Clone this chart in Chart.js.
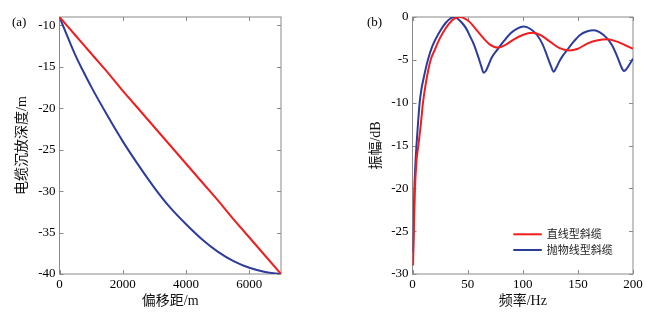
<!DOCTYPE html>
<html><head><meta charset="utf-8">
<script src="https://cdn.jsdelivr.net/npm/chart.js@4/dist/chart.umd.min.js"></script>
<style>
html,body{margin:0;padding:0;background:#fff;width:655px;height:321px;overflow:hidden}
canvas{position:absolute;top:0}
#c1{left:0}
#c2{left:330px}
</style></head><body>
<canvas id="c1" width="330" height="321"></canvas>
<canvas id="c2" width="325" height="321"></canvas>
<script>
// ---- panel (a): cable depth vs offset ----
const offsets = [0, 250, 500, 750, 1000, 1500, 2000, 2500, 3000, 3500, 4000, 4500, 5000, 5500, 6000, 6500, 7000];
const depthStraight = [-9, -10.1, -11.2, -12.3, -13.4, -15.6, -17.9, -20.1, -22.3, -24.5, -26.7, -28.9, -31.1, -33.4, -35.6, -37.8, -40];
const depthParabolic = [-9, -11.35, -13.6, -15.55, -17.4, -20.8, -24.0, -26.9, -29.6, -32.0, -34.0, -35.8, -37.3, -38.45, -39.25, -39.75, -40];
const offsetTicks = [0, 2000, 4000, 6000];
const depthTicks = [-40, -35, -30, -25, -20, -15, -10];

// ---- panel (b): amplitude spectrum ----
const freqStraight = [0.5, 1, 2.1, 3.5, 5.3, 7.5, 9.5, 12, 16.5, 20, 24, 28, 33, 38, 43, 47, 52, 58, 64.5, 70, 77, 85, 92, 100, 108.5, 116, 125, 133, 142, 150, 158.5, 167, 177, 185, 193, 200];
const ampStraight = [-29, -26, -20.5, -17, -15, -12.6, -10, -7.8, -5, -3.9, -2.7, -1.75, -0.8, -0.2, 0, -0.15, -0.6, -1.5, -2.5, -3.2, -3.57, -3.2, -2.6, -2.1, -1.84, -2.1, -2.9, -3.6, -3.9, -3.7, -3.1, -2.75, -2.6, -2.85, -3.3, -3.7];
const freqParabolic = [0.5, 1, 1.6, 2.5, 3.5, 5, 6.5, 8, 10, 14, 18, 24.5, 30, 34, 37.5, 41, 45, 48.5, 52, 56, 60, 62.5, 64.5, 66.5, 69, 72, 77, 83, 89, 95, 101, 107, 113, 118, 122, 125.5, 128, 130.5, 133.5, 137, 140, 146, 152, 158, 164.5, 170, 176.5, 181, 186, 189, 191.8, 194.5, 197.5, 200];
const ampParabolic = [-27.4, -24.5, -20.5, -17.5, -15.2, -12.4, -10, -8.5, -7.2, -5, -3.4, -1.75, -0.7, -0.2, 0, -0.2, -0.7, -1.3, -2.2, -3.3, -4.8, -5.8, -6.5, -6.3, -5.6, -4.7, -3.8, -2.8, -1.9, -1.35, -1.12, -1.4, -2.1, -3.2, -4.5, -5.7, -6.4, -5.9, -5.1, -4.4, -3.9, -2.9, -2.1, -1.7, -1.55, -1.8, -2.5, -3.3, -4.7, -5.7, -6.3, -6.0, -5.4, -4.85];
const freqTicks = [0, 50, 100, 150, 200];
const ampTicks = [-30, -25, -20, -15, -10, -5, 0];

const seriesLabels = ['直线型斜缆', '抛物线型斜缆'];
const RED = '#f01e1e';
const BLUE = '#2c3c9c';
const SERIF = "'Liberation Serif','Times New Roman',serif";
const TITLEFONT = "'Liberation Serif','Noto Sans CJK SC',serif";

function pts(xs, ys) { return xs.map((x, i) => ({ x: x, y: ys[i] })); }

// MATLAB-like box with inward ticks on all sides
const boxPlugin = {
  id: 'box',
  beforeDatasetsDraw(chart) {
    const { ctx, chartArea: a, scales } = chart;
    const xs = scales.x, ys = scales.y;
    ctx.save();
    ctx.strokeStyle = '#8a8a8a';
    ctx.lineWidth = 1;
    ctx.strokeRect(a.left, a.top, a.right - a.left, a.bottom - a.top);
    const L = 4;
    ctx.beginPath();
    xs.ticks.forEach(t => {
      const px = Math.round(xs.getPixelForValue(t.value)) + 0.5;
      ctx.moveTo(px, a.bottom); ctx.lineTo(px, a.bottom - L);
      ctx.moveTo(px, a.top); ctx.lineTo(px, a.top + L);
    });
    ys.ticks.forEach(t => {
      const py = Math.round(ys.getPixelForValue(t.value)) + 0.5;
      ctx.moveTo(a.left, py); ctx.lineTo(a.left + L, py);
      ctx.moveTo(a.right, py); ctx.lineTo(a.right - L, py);
    });
    ctx.stroke();
    ctx.restore();
  }
};

const panelLabelPlugin = {
  id: 'panelLabel',
  afterDraw(chart, args, opts) {
    const ctx = chart.ctx;
    ctx.save();
    ctx.font = '13px ' + SERIF;
    ctx.fillStyle = '#000';
    ctx.textBaseline = 'middle';
    ctx.fillText(opts.text, opts.x, opts.y);
    ctx.restore();
  }
};

const legendPlugin = {
  id: 'insideLegend',
  afterDraw(chart) {
    const { ctx, chartArea: a } = chart;
    ctx.save();
    ctx.font = "11px 'Noto Sans CJK SC',sans-serif";
    ctx.textBaseline = 'middle';
    chart.data.datasets.forEach((ds, i) => {
      const y = a.bottom - 39.7 + i * 15.7;
      const x0 = a.right - 119.7;
      ctx.strokeStyle = ds.borderColor;
      ctx.lineWidth = 2;
      ctx.beginPath(); ctx.moveTo(x0, y); ctx.lineTo(x0 + 28.5, y); ctx.stroke();
      ctx.fillStyle = '#222';
      ctx.fillText(ds.label, x0 + 33.5, y);
    });
    ctx.restore();
  }
};

function makeScale(opts) {
  const s = {
    type: 'linear',
    position: opts.position,
    min: opts.min, max: opts.max,
    grid: { display: false, drawTicks: false },
    border: { display: false },
    afterBuildTicks(scale) { scale.ticks = opts.ticks.map(v => ({ value: v })); },
    ticks: {
      color: '#000',
      font: { family: SERIF, size: 13 },
      padding: opts.pad,
      maxRotation: 0,
      autoSkip: false,
      callback: v => String(v)
    },
    title: {
      display: true,
      text: opts.title,
      color: '#111',
      font: { family: TITLEFONT, size: 14 },
      padding: opts.titlePad
    }
  };
  if (opts.position === 'left') s.afterFit = sc => { sc.width = opts.size; };
  else s.afterFit = sc => { sc.height = opts.size; };
  return s;
}

new Chart(document.getElementById('c1'), {
  type: 'line',
  data: {
    datasets: [
      { label: '直线型斜缆', data: pts(offsets, depthStraight), borderColor: RED, borderWidth: 2, pointRadius: 0, tension: 0 },
      { label: '抛物线型斜缆', data: pts(offsets, depthParabolic), borderColor: BLUE, borderWidth: 2, pointRadius: 0, cubicInterpolationMode: 'monotone' }
    ]
  },
  options: {
    responsive: false, animation: false,
    layout: { padding: { left: 0, top: 17, right: 49, bottom: 0 } },
    plugins: { legend: { display: false }, tooltip: { enabled: false },
      panelLabel: { text: '(a)', x: 12, y: 23 } },
    scales: {
      x: makeScale({ position: 'bottom', min: 0, max: 7000, ticks: offsetTicks, pad: 3, title: '偏移距/m', titlePad: { top: 0, bottom: 11 }, size: 47 }),
      y: makeScale({ position: 'left', min: -40, max: -9, ticks: depthTicks, pad: 4, title: '电缆沉放深度/m', titlePad: { top: 14, bottom: 0 }, size: 59.5 })
    }
  },
  plugins: [boxPlugin, panelLabelPlugin]
});

new Chart(document.getElementById('c2'), {
  type: 'line',
  data: {
    datasets: [
      { label: seriesLabels[0], data: pts(freqStraight, ampStraight), borderColor: RED, borderWidth: 2, pointRadius: 0, cubicInterpolationMode: 'monotone' },
      { label: seriesLabels[1], data: pts(freqParabolic, ampParabolic), borderColor: BLUE, borderWidth: 2, pointRadius: 0, cubicInterpolationMode: 'monotone' }
    ]
  },
  options: {
    responsive: false, animation: false,
    layout: { padding: { left: 0, top: 17, right: 22, bottom: 0 } },
    plugins: { legend: { display: false }, tooltip: { enabled: false },
      panelLabel: { text: '(b)', x: 37, y: 23 } },
    scales: {
      x: makeScale({ position: 'bottom', min: 0, max: 200, ticks: freqTicks, pad: 3, title: '频率/Hz', titlePad: { top: 0, bottom: 11 }, size: 47 }),
      y: makeScale({ position: 'left', min: -30, max: 0, ticks: ampTicks, pad: 4, title: '振幅/dB', titlePad: { top: 38, bottom: 0 }, size: 82.5 })
    }
  },
  plugins: [boxPlugin, panelLabelPlugin, legendPlugin]
});
</script>
</body></html>
